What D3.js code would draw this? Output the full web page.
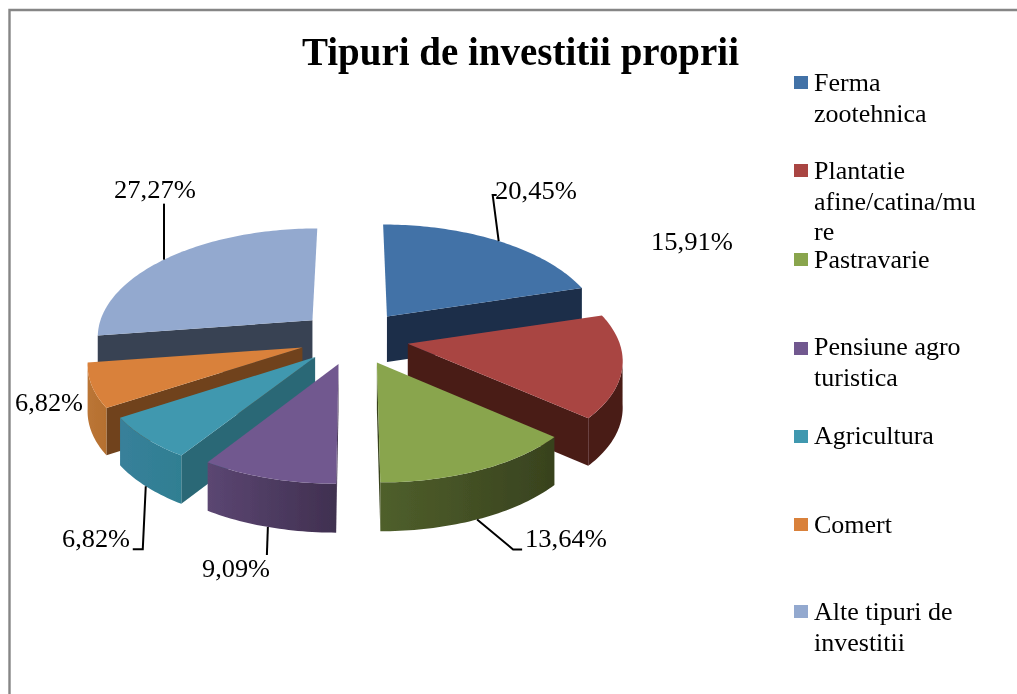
<!DOCTYPE html>
<html><head><meta charset="utf-8">
<style>html,body{margin:0;padding:0;background:#fff}svg{display:block}text{font-family:"Liberation Serif",serif;fill:#000}</style>
<script src="https://cdn.jsdelivr.net/npm/d3@7/dist/d3.min.js"></script>
</head><body><svg id="c" width="1017" height="694"></svg>
<script>
const titleText = "Tipuri de investitii proprii";
const categories = ["Ferma zootehnica","Plantatie afine/catina/mure","Pastravarie","Pensiune agro turistica","Agricultura","Comert","Alte tipuri de investitii"];
const values = [20.45,15.91,13.64,9.09,6.82,6.82,27.27];
const legendLines = [["Ferma","zootehnica"],["Plantatie","afine/catina/mu","re"],["Pastravarie"],["Pensiune agro","turistica"],["Agricultura"],["Comert"],["Alte tipuri de","investitii"]];
const topColors = ["#4372a7","#a94543","#89a54e","#71588f","#4098af","#d9813a","#93a9cf"];
const wallLeft  = ["#1a2e4a","#4a1c19","#4f5f2b","#5b4672","#38809a","#bb7536","#394353"];
const wallRight = ["#1a2e4a","#4a1c19","#38421e","#403050","#2f7f92","#b5702f","#394353"];
const faceColors = ["#1a2e4a","#4a1c19","#38421e","#403050","#2c6876","#6f431c","#394353"];

// layout (reference pixels)
const cx=354, cy=338, R=212, A=104, K=0.132, EX=55, EY=27, DEPTH=46;
const labelPos = [[495,199],[651,250],[525,547],[202,577],[62,547],[15,411],[114,198]];
// leader elbows, relative to the anchor on the slice; null = no leader
const leaderBends = [[[-6,-46],[-2,-46]],null,[[36,30],[45,30]],[[-1,28]],[[-3,63],[-13,63]],null,[[0,-56]]];
const leaderShift = [0,0,0.014,0,0,0,-0.03];
const legendY = [[91,122],[179,210,240],[268],[355,386],[444],[533],[620,651]];
const swatchY = [76,164,253,342,430,518,605];

const svg = d3.select("#c");
const defs = svg.append("defs");
defs.append("filter").attr("id","soft").attr("x","-5%").attr("y","-5%").attr("width","110%").attr("height","110%")
  .append("feGaussianBlur").attr("stdDeviation",0.4);

const frame = d3.path(); frame.moveTo(9.5,694); frame.lineTo(9.5,10); frame.lineTo(1017,10);
svg.append("path").attr("d",frame.toString()).attr("fill","none").attr("stroke","#868686").attr("stroke-width",2.4);

const root = svg.append("g").attr("filter","url(#soft)");

const arcs = d3.pie().sort(null).value(d=>d)(values);
const line = d3.line();
const depthAt = y => DEPTH + (y-cy)*0.02;
const wallFrom = Math.acos(-K), wallTo = 2*Math.PI-wallFrom;

const slices = arcs.map((a,i)=>{
  const mid=(a.startAngle+a.endAngle)/2;
  const ax=cx+EX*Math.sin(mid), ay=cy-EY*Math.cos(mid);
  const P=t=>{const u=Math.sin(t),v=-Math.cos(t),s=1/(1-K*v);return [cx+(ax-cx+R*u)*s, ay+A*v*s];};
  const down=p=>[p[0],p[1]+depthAt(p[1])];
  return {i,a,mid,ax,ay,P,down};
});
const samples=(t0,t1)=>{const n=Math.max(2,Math.ceil((t1-t0)/0.02));return d3.range(n+1).map(k=>t0+(t1-t0)*k/n);};

slices.slice().sort((p,q)=>(-Math.cos(p.mid))-(-Math.cos(q.mid))).forEach(s=>{
  const {i,a,mid,ax,ay,P,down}=s;
  const g=root.append("g");
  const apex=[ax,ay];
  // radial side face
  const edge=P(mid<Math.PI?a.endAngle:a.startAngle);
  g.append("path").attr("d",line([apex,edge,down(edge),down(apex)])+"Z").attr("fill",faceColors[i]);
  // outer wall
  const t0=Math.max(a.startAngle,wallFrom), t1=Math.min(a.endAngle,wallTo);
  if(t1>t0){
    const pts=samples(t0,t1).map(P);
    const xs=d3.extent(pts,p=>p[0]);
    const gid="w"+i;
    const lg=defs.append("linearGradient").attr("id",gid).attr("gradientUnits","userSpaceOnUse")
      .attr("x1",xs[0]).attr("x2",xs[1]).attr("y1",0).attr("y2",0);
    lg.append("stop").attr("offset",0).attr("stop-color",wallLeft[i]);
    lg.append("stop").attr("offset",1).attr("stop-color",wallRight[i]);
    g.append("path").attr("d",line(pts.concat(pts.slice().reverse().map(down)))+"Z").attr("fill",`url(#${gid})`);
  }
  // top
  g.append("path").attr("d",line([apex].concat(samples(a.startAngle,a.endAngle).map(P)))+"Z").attr("fill",topColors[i]);
});

// leaders + labels
const fmt=d=>d3.format(".2f")(d).replace(".",",")+"%";
slices.forEach(s=>{
  const b=leaderBends[s.i];
  if(b){
    const rim=s.P(s.mid+leaderShift[s.i]);
    const anchor=Math.cos(s.mid)<0?s.down(rim):rim;
    const pts=[anchor].concat(b.map(o=>[anchor[0]+o[0],anchor[1]+o[1]]));
    root.append("path").attr("d",line(pts)).attr("fill","none").attr("stroke","#000").attr("stroke-width",2);
  }
  const [x,y]=labelPos[s.i];
  const w=values[s.i]<10?68:82;
  root.append("text").attr("x",x).attr("y",y).attr("font-size",25).attr("textLength",w).attr("lengthAdjust","spacingAndGlyphs").text(fmt(values[s.i]));
});

// title
root.append("text").attr("x",302).attr("y",65).attr("font-size",39).attr("font-weight","bold").attr("textLength",437).attr("lengthAdjust","spacingAndGlyphs").text(titleText);

// legend
categories.forEach((c,i)=>{
  root.append("rect").attr("x",794).attr("y",swatchY[i]).attr("width",14).attr("height",13).attr("fill",topColors[i]);
  legendLines[i].forEach((t,j)=>{
    const el=root.append("text").attr("x",814).attr("y",legendY[i][j]).attr("font-size",25).attr("lengthAdjust","spacingAndGlyphs").text(t);
    const natural=el.node().getComputedTextLength();
    el.attr("textLength",natural*1.04);
  });
});
</script></body></html>
